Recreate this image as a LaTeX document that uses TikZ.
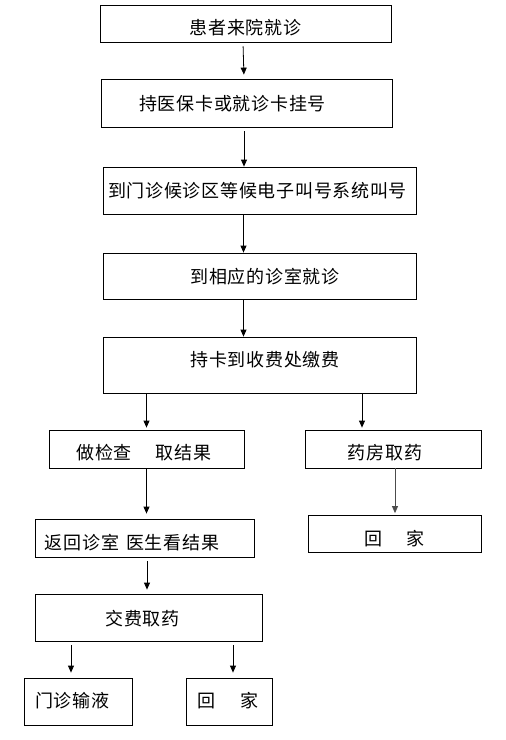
\documentclass[tikz,border=0pt]{standalone}
\usepackage{fontspec}
\usepackage{tikz}
\usetikzlibrary{arrows.meta,calc}
\newfontfamily\cjk[LetterSpace=4]{Noto Sans CJK SC}

\begin{document}
\begin{tikzpicture}[x=1pt,y=-1pt,
                    every node/.style={font=\cjk\fontsize{18}{21}\selectfont,text height=14pt,text depth=2pt},
                    box/.style={draw,line width=0.8pt,inner sep=0pt,align=center},
                    boxl/.style={draw,line width=0.8pt,inner ysep=0pt,align=left},
                    ar/.style={-{Triangle[length=7pt,width=6pt]},line width=0.8pt}]
  \useasboundingbox (0,0) rectangle (506,740);
  \node[box,minimum width=291pt,minimum height=37pt,text height=23pt] (come) at (245.5,23.5) {患者来院就诊};
  \node[box,minimum width=291pt,minimum height=48pt,text height=17pt] (reg) at (246.5,103) {持医保卡或就诊卡挂号\hspace{28pt}};
  \node[box,minimum width=313pt,minimum height=47pt,text height=15pt] (wait) at (259.5,190.5) {到门诊候诊区等候电子叫号系统叫号\hspace{4pt}};
  \node[box,minimum width=313pt,minimum height=46pt,text height=17pt] (room) at (259.5,276) {\hspace{11pt}到相应的诊室就诊};
  \node[box,minimum width=313pt,minimum height=56pt,text depth=12pt] (pay) at (259.5,365) {\hspace{11pt}持卡到收费处缴费};
  \node[box,minimum width=195pt,minimum height=38pt,text height=23pt] (exam) at (146.5,449) {做检查\hspace{24pt}取结果\hspace{5pt}};
  \node[box,minimum width=176pt,minimum height=38pt,text height=23pt] (drug) at (393,449) {药房取药\hspace{16pt}};
  \node[boxl,inner xsep=10pt,text width=199pt,minimum height=38pt,text height=24pt] (result) at (144.5,538) {返回诊室\hspace{7pt}医生看结果};
  \node[box,minimum width=173pt,minimum height=37pt,text height=25pt] (home) at (394.5,534) {回\hspace{25pt}家};
  \node[box,minimum width=227pt,minimum height=47pt,text height=18pt] (take) at (148.5,617.5) {交费取药\hspace{12pt}};
  \node[boxl,inner xsep=11pt,text width=86pt,minimum height=47pt] (drip) at (78,701.5) {门诊输液};
  \node[boxl,inner xsep=11pt,text width=64pt,minimum height=47pt] (back) at (229,701.5) {回\hspace{26pt}家};
  \draw[ar,shorten <=4pt,shorten >=4pt] ([xshift=-2.5pt]come.south) -- ([xshift=-2.5pt]reg.north);
  \draw[ar,shorten <=4pt] ([xshift=-2.5pt]reg.south) -- ([xshift=-2.5pt]reg.south |- wait.north);
  \draw[ar] ([xshift=-16pt]wait.south) -- ([xshift=-16pt]room.north);
  \draw[ar] ([xshift=-16pt]room.south) -- ([xshift=-16pt]pay.north);
  \draw[ar,shorten >=2pt] (exam.north |- pay.south) -- (exam.north);
  \draw[ar,shorten >=2pt] ([xshift=-31pt]drug.north |- pay.south) -- ([xshift=-31pt]drug.north);
  \draw[ar,shorten >=5pt] (exam.south) -- (exam.south |- result.north);
  \draw[ar,black!70,shorten >=2pt] ([xshift=2pt]drug.south) -- ([xshift=2pt]drug.south |- home.north);
  \draw[ar,shorten <=4pt,shorten >=4pt] ([xshift=-1.5pt]take.north |- result.south) -- ([xshift=-1.5pt]take.north);
  \draw[ar,shorten <=4pt,shorten >=5pt] ([xshift=-7pt]drip.north |- take.south) -- ([xshift=-7pt]drip.north);
  \draw[ar,shorten <=4pt,shorten >=5pt] ([xshift=4pt]back.north |- take.south) -- ([xshift=4pt]back.north);
\end{tikzpicture}
\end{document}
